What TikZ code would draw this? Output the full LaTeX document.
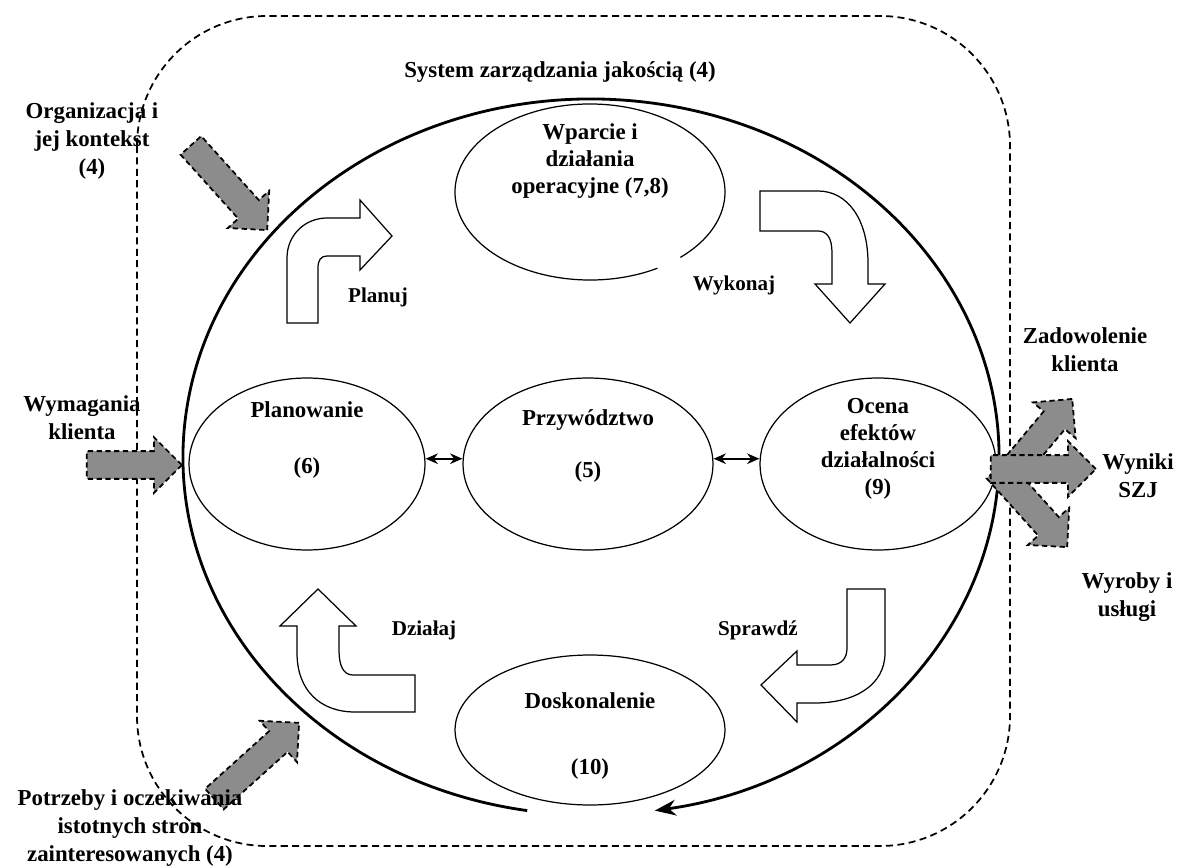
\documentclass[tikz,border=0pt]{standalone}
\usepackage{fontspec}
\setmainfont{Liberation Serif}
\usetikzlibrary{shapes.geometric,shapes.arrows,arrows.meta}

\begin{document}
\begin{tikzpicture}[x=0.02cm,y=-0.02cm,font=\fontsize{13}{16}\selectfont\bfseries]
\tikzstyle{phase}=[ellipse,draw,line width=0.7pt,inner sep=0pt]
\tikzstyle{txt}=[align=center,inner sep=0pt]
\tikzstyle{step label}=[txt,font=\fontsize{12}{14}\selectfont\bfseries]
\tikzstyle{grey arrow}=[single arrow,draw,dash pattern=on 3pt off 2pt,line width=1pt,fill=black!45,inner xsep=0pt,inner ysep=0.26cm,minimum width=0pt,single arrow head extend=0.28cm,anchor=tip]
\tikzstyle{bent}=[draw,line width=0.7pt,fill=white]
\useasboundingbox (0,0) rectangle (1180,868);

% frame of the system
\draw[dash pattern=on 4pt off 2.5pt,line width=1pt,rounded corners=2.6cm] (137,16) rectangle (1010,846);

% big cycle
\coordinate (qms) at (591,457);
\draw[line width=1.6pt,-{Stealth[length=12pt,width=9pt]}] (qms) ++(99:408 and 358) arc[start angle=99,end angle=441,x radius=408,y radius=358];

% phases
\foreach \name/\point/\w in {
	plan/{307,464}/4.72cm,
	lead/{588,464}/5cm,
	eval/{878,464}/4.72cm}
	\node[phase,minimum width=\w,minimum height=3.44cm] (\name) at (\point) {};
\node[phase,minimum width=5.4cm,minimum height=3cm] (impr) at (590,730) {};
\node[phase,draw=none,minimum width=5.4cm,minimum height=3.52cm] (supp) at (590,192) {};
\draw[line width=0.7pt] (supp.center) ++(60:135 and 88) arc[start angle=60,end angle=408,x radius=135,y radius=88];

\draw[{Stealth[length=7pt,width=6pt]}-{Stealth[length=7pt,width=6pt]},line width=1pt] ([yshift=3pt]plan.east) -- ([yshift=3pt]lead.west);
\draw[{Stealth[length=7pt,width=6pt]}-{Stealth[length=7pt,width=6pt]},line width=1pt] ([yshift=3pt]lead.east) -- ([yshift=3pt]eval.west);

% bent arrows
\draw[bent] (287,323) -- (287,258) .. controls (287,235) and (305,218) .. (327,218) -- (360,218) -- (360,200) -- (392,236) -- (360,270) -- (360,256) -- (327,256) .. controls (321,256) and (318,260) .. (318,268) -- (318,323) -- cycle;
\draw[bent] (760,191) -- (818,191) .. controls (848,191) and (868,220) .. (868,263) -- (868,284) -- (885,284) -- (850,323) -- (815,284) -- (832,284) -- (832,253) .. controls (832,238) and (827,231) .. (818,231) -- (760,231) -- cycle;
\draw[bent] (847,589) -- (885,589) -- (885,653) .. controls (885,685) and (855,703) .. (815,703) -- (797,703) -- (797,722) -- (761,685) -- (797,651) -- (797,665) -- (830,665) .. controls (842,665) and (847,658) .. (847,648) -- cycle;
\draw[bent] (415,675) -- (353,675) .. controls (343,675) and (339,665) .. (339,650) -- (339,626) -- (356,626) -- (318,589) -- (280,626) -- (297,626) -- (297,653) .. controls (297,690) and (320,712) .. (355,712) -- (415,712) -- cycle;

% inputs and outputs
\foreach \name/\tip/\ang/\len in {
	org/{268,231}/-48/2.28cm,
	req/{183,465}/0/1.9cm,
	need/{300,722}/42/2.28cm,
	sat/{1073,398}/50/2.1cm,
	prod/{1068,548}/-48/2.1cm,
	res/{1097,469}/0/2.1cm}
	\node[grey arrow,minimum height=\len,rotate=\ang] (\name) at (\tip) {};

% labels
\node[txt] (title) at (560,72) {System zarządzania jakością (4)};
\node[txt] (orgT) at (92,141) {Organizacja i\\jej kontekst\\(4)};
\node[txt] (reqT) at (82,418) {Wymagania\\klienta};
\node[txt] (needT) at (130,828) {Potrzeby i oczekiwania\\istotnych stron\\zainteresowanych (4)};
\node[txt] (satT) at (1085,350) {Zadowolenie\\klienta};
\node[txt] (resT) at (1138,476) {Wyniki\\SZJ};
\node[txt] (prodT) at (1127,597) {Wyroby i\\usługi};
\node[txt] (planT) at (307,440) {Planowanie\\[16pt](6)};
\node[txt] (leadT) at (588,446) {Przywództwo\\[14pt](5)};
\node[txt,font=\fontsize{13}{15.5}\selectfont\bfseries] (evalT) at (878,449) {Ocena\\efektów\\działalności\\(9)};
\node[txt] (imprT) at (590,736) {Doskonalenie\\[21pt](10)};
\node[txt,font=\fontsize{13}{15.5}\selectfont\bfseries] (suppT) at (590,161) {Wparcie i\\działania\\operacyjne (7,8)};
\node[step label] (planL) at (378,297) {Planuj};
\node[step label] (doL) at (734,285) {Wykonaj};
\node[step label] (actL) at (424,630) {Działaj};
\node[step label] (checkL) at (758,630) {Sprawdź};
\end{tikzpicture}
\end{document}
